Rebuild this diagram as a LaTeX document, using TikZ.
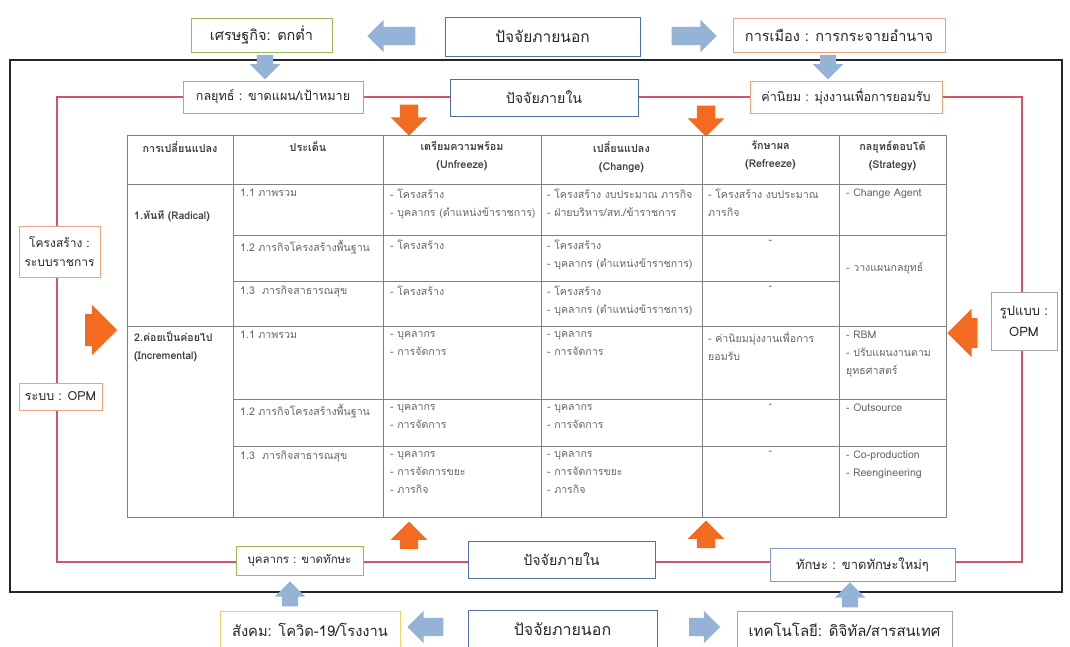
\documentclass[tikz,border=0pt]{standalone}
\usepackage{fontspec}
\setmainfont[Script=Thai]{Loma}
\usepackage{xcolor}
\usetikzlibrary{arrows.meta, positioning, shapes}

\definecolor{boxgreen}{HTML}{9BBB59}
\definecolor{boxblue}{HTML}{4F6FA8}
\definecolor{boxorange}{HTML}{EBA57E}
\definecolor{boxyellow}{HTML}{F2D16B}
\definecolor{boxgrey}{HTML}{A6A6A6}
\definecolor{boxsky}{HTML}{7F9CC8}
\definecolor{framered}{HTML}{CF5666}
\definecolor{arrowblue}{HTML}{95B3D7}
\definecolor{arroworange}{HTML}{F26B21}
\definecolor{tablegrey}{HTML}{808080}

\tikzset{
    box/.style={draw, fill=white, line width=0.9pt, align=center, inner sep=2pt, text=black!85},
    bluearrow/.style={single arrow, fill=arrowblue, draw=none, inner sep=8pt, single arrow head extend=7pt},
    orangearrow/.style={single arrow, fill=arroworange, draw=none, inner sep=9pt, single arrow head extend=9pt},
    tabline/.style={draw=tablegrey, line width=1pt},
    head/.style={anchor=north, align=center, inner sep=0pt, font=\fontsize{10.8}{18}\selectfont\bfseries, text=black!75},
    cell/.style={anchor=north west, align=left, inner sep=0pt, font=\fontsize{10.6}{18}\selectfont, text=black!60}
}

\begin{document}
\begin{tikzpicture}[x=1pt, y=-1pt]
    \useasboundingbox[fill=white] (0,0) rectangle (1070,646);

    % frames
    \draw[black!85, line width=1.3pt] (10,60) rectangle (1062,592);
    \draw[framered, line width=1.5pt] (57,97) rectangle (1022,562);

    % outside factors, top
    \node[box, draw=boxgreen, minimum width=141pt, minimum height=34pt, font=\fontsize{14.5}{16}\selectfont] (econ) at (261.5,35) {เศรษฐกิจ: ตกต่ำ};
    \node[box, draw=boxblue, minimum width=195pt, minimum height=39pt, font=\fontsize{15.5}{17}\selectfont] (exttop) at (542.5,36.5) {ปัจจัยภายนอก};
    \node[box, draw=boxorange, minimum width=212pt, minimum height=34pt, font=\fontsize{14.5}{16}\selectfont] (polit) at (839,35) {การเมือง : การกระจายอำนาจ};
    \node[bluearrow, minimum height=48pt, minimum width=32pt, inner xsep=0pt, inner ysep=9pt, shape border rotate=180] (exttopl) at (396,36) {};
    \node[bluearrow, minimum height=45pt, minimum width=32pt, inner xsep=0pt, inner ysep=9pt] (exttopr) at (689.5,36) {};
    \node[bluearrow, minimum height=24pt, minimum width=30pt, shape border rotate=270] (econdown) at (265,63) {};
    \node[bluearrow, minimum height=24pt, minimum width=30pt, shape border rotate=270] (politdown) at (828,63) {};

    % inside factors, top
    \node[box, draw=boxgreen, minimum width=180pt, minimum height=32pt, font=\fontsize{12.6}{14}\selectfont] (strat) at (273,97) {กลยุทธ์ : ขาดแผน/เป้าหมาย};
    \node[box, draw=boxblue, minimum width=188pt, minimum height=37pt, font=\fontsize{14.2}{16}\selectfont] (inttop) at (544,97.5) {ปัจจัยภายใน};
    \node[box, draw=boxorange, minimum width=192pt, minimum height=32pt, font=\fontsize{12.6}{14}\selectfont] (value) at (846,97) {ค่านิยม : มุ่งงานเพื่อการยอมรับ};
    \node[orangearrow, minimum height=31pt, minimum width=36pt, shape border rotate=270] (downa) at (409,115.5) {};
    \node[orangearrow, minimum height=31pt, minimum width=36pt, shape border rotate=270] (downb) at (706,116.5) {};

    % sides
    \node[box, draw=boxorange, minimum width=81pt, minimum height=51pt, font=\fontsize{12}{19}\selectfont] (struct) at (59.5,251.5) {โครงสร้าง :\\ระบบราชการ};
    \node[box, draw=boxorange, minimum width=83pt, minimum height=27pt, font=\fontsize{12.5}{14}\selectfont] (sys) at (60.5,396.5) {ระบบ : OPM};
    \node[orangearrow, minimum height=32pt, minimum width=50pt, inner xsep=0pt, inner ysep=16pt] (lefta) at (93,330) {};
    \node[box, draw=boxgrey, minimum width=66pt, minimum height=58pt, font=\fontsize{13}{21}\selectfont] (model) at (1024,321) {รูปแบบ :\\OPM};
    \node[orangearrow, minimum height=30pt, minimum width=47pt, inner xsep=0pt, inner ysep=15pt, shape border rotate=180] (righta) at (970,333) {};

    % table
    \fill[white] (127,135) rectangle (946,517);
    \draw[tabline] (127,135) rectangle (946,517);
    \foreach \x in {233,383,541,702,839}
        \draw[tabline] (\x,135) -- (\x,517);
    \draw[tabline] (127,184) -- (946,184);
    \draw[tabline] (127,326) -- (946,326);
    \draw[tabline] (233,235) -- (946,235);
    \draw[tabline] (233,281) -- (839,281);
    \draw[tabline] (233,399) -- (946,399);
    \draw[tabline] (233,446) -- (946,446);

    \node[head] (h1) at (180,141) {การเปลี่ยนแปลง};
    \node[head] (h2) at (308,141) {ประเด็น};
    \node[head] (h3) at (462,141) {เตรียมความพร้อม\\(Unfreeze)};
    \node[head] (h4) at (621.5,141) {เปลี่ยนแปลง\\(Change)};
    \node[head] (h5) at (770.5,141) {รักษาผล\\(Refreeze)};
    \node[head] (h6) at (892.5,141) {กลยุทธ์ตอบโต้\\(Strategy)};

    \node[cell, anchor=west, font=\fontsize{10.6}{18}\selectfont\bfseries, text=black!75] (radical) at (134,216) {1.ทันที (Radical)};
    \node[cell, font=\fontsize{10.6}{18}\selectfont\bfseries, text=black!75] (increm) at (134,331) {2.ค่อยเป็นค่อยไป\\(Incremental)};

    \node[cell] (ra2) at (240,189) {1.1 ภาพรวม};
    \node[cell] (ra3) at (390,189) {- โครงสร้าง\\- บุคลากร (ตำแหน่งข้าราชการ)};
    \node[cell] (ra4) at (547,189) {- โครงสร้าง งบประมาณ ภารกิจ\\- ฝ่ายบริหาร/สท./ข้าราชการ};
    \node[cell] (ra5) at (708,189) {- โครงสร้าง งบประมาณ\\ภารกิจ};
    \node[cell] (ra6) at (846,189) {- Change Agent};

    \node[cell] (rb2) at (240,240) {1.2 ภารกิจโครงสร้างพื้นฐาน};
    \node[cell] (rb3) at (390,240) {- โครงสร้าง};
    \node[cell] (rb4) at (547,240) {- โครงสร้าง\\- บุคลากร (ตำแหน่งข้าราชการ)};
    \node[cell, anchor=north] (rb5) at (770.5,240) {-};
    \node[cell, anchor=west] (rb6) at (846,268) {- วางแผนกลยุทธ์};

    \node[cell] (rc2) at (240,286) {1.3\ \ ภารกิจสาธารณสุข};
    \node[cell] (rc3) at (390,286) {- โครงสร้าง};
    \node[cell] (rc4) at (547,286) {- โครงสร้าง\\- บุคลากร (ตำแหน่งข้าราชการ)};
    \node[cell, anchor=north] (rc5) at (770.5,286) {-};

    \node[cell] (ia2) at (240,331) {1.1 ภาพรวม};
    \node[cell] (ia3) at (390,331) {- บุคลากร\\- การจัดการ};
    \node[cell] (ia4) at (547,331) {- บุคลากร\\- การจัดการ};
    \node[cell] (ia5) at (708,331) {- ค่านิยมมุ่งงานเพื่อการ\\ยอมรับ};
    \node[cell] (ia6) at (846,331) {- RBM\\- ปรับแผนงานตาม\\ยุทธศาสตร์};

    \node[cell] (ib2) at (240,404) {1.2 ภารกิจโครงสร้างพื้นฐาน};
    \node[cell] (ib3) at (390,404) {- บุคลากร\\- การจัดการ};
    \node[cell] (ib4) at (547,404) {- บุคลากร\\- การจัดการ};
    \node[cell, anchor=north] (ib5) at (770.5,404) {-};
    \node[cell] (ib6) at (846,404) {- Outsource};

    \node[cell] (ic2) at (240,451) {1.3\ \ ภารกิจสาธารณสุข};
    \node[cell] (ic3) at (390,451) {- บุคลากร\\- การจัดการขยะ\\- ภารกิจ};
    \node[cell] (ic4) at (547,451) {- บุคลากร\\- การจัดการขยะ\\- ภารกิจ};
    \node[cell, anchor=north] (ic5) at (770.5,451) {-};
    \node[cell] (ic6) at (846,451) {- Co-production\\- Reengineering};

    % inside factors, bottom
    \node[orangearrow, minimum height=27pt, minimum width=36pt, shape border rotate=90] (upa) at (409,540) {};
    \node[orangearrow, minimum height=27pt, minimum width=36pt, shape border rotate=90] (upb) at (706,539) {};
    \node[box, draw=boxgreen, minimum width=127pt, minimum height=29pt, font=\fontsize{11.5}{13}\selectfont] (staff) at (299.5,560.5) {บุคลากร : ขาดทักษะ};
    \node[box, draw=boxblue, minimum width=187pt, minimum height=37pt, font=\fontsize{14.2}{16}\selectfont] (intbot) at (561.5,559.5) {ปัจจัยภายใน};
    \node[box, draw=boxsky, minimum width=185pt, minimum height=33pt, font=\fontsize{13}{15}\selectfont] (skill) at (862.5,564.5) {ทักษะ : ขาดทักษะใหม่ๆ};

    % outside factors, bottom
    \node[bluearrow, minimum height=25pt, minimum width=30pt, shape border rotate=90] (socialup) at (290,598) {};
    \node[bluearrow, minimum height=25pt, minimum width=30pt, shape border rotate=90] (techup) at (850,599) {};
    \node[box, draw=boxyellow, minimum width=180pt, minimum height=38pt, font=\fontsize{14.7}{16}\selectfont] (social) at (310,630) {สังคม: โควิด-19/โรงงาน};
    \node[box, draw=boxblue, minimum width=189pt, minimum height=38pt, font=\fontsize{16}{18}\selectfont] (extbot) at (562.5,629) {ปัจจัยภายนอก};
    \node[box, draw=boxgrey, minimum width=215pt, minimum height=38pt, font=\fontsize{15}{17}\selectfont] (tech) at (844.5,630) {เทคโนโลยี: ดิจิทัล/สารสนเทศ};
    \node[bluearrow, minimum height=36pt, minimum width=32pt, inner xsep=0pt, inner ysep=9pt, shape border rotate=180] (extbotl) at (430,627) {};
    \node[bluearrow, minimum height=31pt, minimum width=32pt, inner xsep=0pt, inner ysep=9pt] (extbotr) at (700,627) {};
\end{tikzpicture}
\end{document}
